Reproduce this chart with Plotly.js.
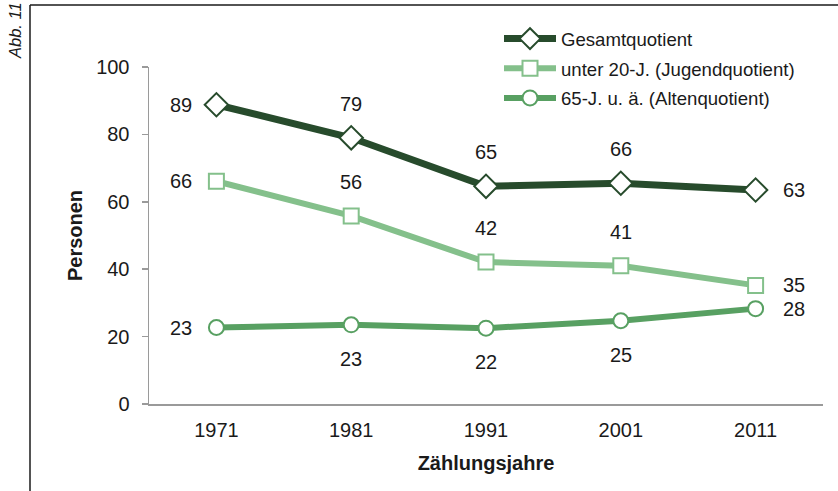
<!DOCTYPE html>
<html>
<head>
<meta charset="utf-8">
<script src="https://cdn.plot.ly/plotly-3.0.1.min.js"></script>
<style>
html,body{margin:0;padding:0;background:#fff;}
#chart{width:838px;height:491px;}
</style>
</head>
<body>
<div id="chart"></div>
<script>
// ---- data ----
const years = ["1971", "1981", "1991", "2001", "2011"];
const seriesNames = ["Gesamtquotient", "unter 20-J. (Jugendquotient)", "65-J. u. ä. (Altenquotient)"];
const gesamt = [88.8, 79.0, 64.6, 65.5, 63.5];
const jugend = [66.1, 55.8, 42.1, 41.0, 35.2];
const alten  = [22.7, 23.5, 22.5, 24.7, 28.3];
const gesamtLabels = ["89", "79", "65", "66", "63"];
const jugendLabels = ["66", "56", "42", "41", "35"];
const altenLabels  = ["23", "23", "22", "25", "28"];
const yTicks = [0, 20, 40, 60, 80, 100];

// ---- styles ----
const colors = ["#274b2c", "#84c08b", "#58a062"];
const lineWidths = [7, 6, 6];
const markerSymbols = ["diamond", "square", "circle"];
const markerSizes = [18, 15, 15];
const labelSides = [
  ["left", "top", "top", "top", "right"],
  ["left", "top", "top", "top", "right"],
  ["left", "bottom", "bottom", "bottom", "right"]
];
const FONT = "Liberation Sans, Arial, sans-serif";
const TXT = "#1a1a1a";

const allValues = [gesamt, jugend, alten];
const allLabels = [gesamtLabels, jugendLabels, altenLabels];

const traces = allValues.map((vals, i) => ({
  type: "scatter",
  mode: "lines+markers",
  x: years,
  y: vals,
  name: seriesNames[i],
  legendgroup: "g" + i,
  line: {color: colors[i], width: lineWidths[i]},
  marker: {symbol: markerSymbols[i], size: markerSizes[i], color: "#ffffff",
           line: {color: colors[i], width: 2}},
  cliponaxis: false,
  hoverinfo: "x+y"
}));

const OFF = 34;
const annotations = [];
allValues.forEach((vals, i) => {
  vals.forEach((v, j) => {
    const side = labelSides[i][j];
    annotations.push({
      x: j, y: v, xref: "x", yref: "y",   // x = category index of years[j]
      text: allLabels[i][j], showarrow: false,
      font: {family: FONT, size: 20, color: TXT},
      xanchor: "center", yanchor: "middle",
      xshift: side === "left" ? -OFF - 1 : side === "right" ? OFF + 4 : 0,
      yshift: side === "top" ? OFF : side === "bottom" ? -OFF : 0
    });
  });
});
annotations.push({
  xref: "paper", yref: "paper",
  x: (15 - 149) / 674, y: (404 - 31) / 337,
  text: "Abb. 11", showarrow: false, textangle: -90,
  font: {family: FONT, size: 16.5, color: TXT, style: "italic"},
  xanchor: "center", yanchor: "middle"
});

const layout = {
  width: 838, height: 491,
  margin: {l: 149, r: 15, t: 67, b: 87},
  paper_bgcolor: "#ffffff", plot_bgcolor: "#ffffff",
  font: {family: FONT, size: 20, color: TXT},
  showlegend: true,
  legend: {
    x: (499 - 149) / 674, xanchor: "left",
    y: (404 - 20) / 337, yanchor: "top",
    bgcolor: "rgba(0,0,0,0)",
    font: {family: FONT, size: 18.6, color: TXT},
    itemwidth: 52,
    tracegroupgap: 2.5,
    traceorder: "grouped"
  },
  xaxis: {
    type: "category",
    range: [-0.5, 4.5],
    showline: true, linecolor: "#9a9a9a", linewidth: 1.5,
    ticks: "", showgrid: false, zeroline: false,
    tickfont: {family: FONT, size: 20, color: TXT},
    ticklabelstandoff: 7,
    title: {text: "<b>Zählungsjahre</b>", font: {family: FONT, size: 20, color: TXT}, standoff: 16}
  },
  yaxis: {
    range: [0, 100],
    tickvals: yTicks,
    showline: true, linecolor: "#9a9a9a", linewidth: 1.5,
    ticks: "outside", ticklen: 6, tickcolor: "#9a9a9a", tickwidth: 1.5,
    showgrid: false, zeroline: false,
    tickfont: {family: FONT, size: 20, color: TXT},
    ticklabelstandoff: 8,
    title: {text: "<b>Personen</b>", font: {family: FONT, size: 20, color: TXT}, standoff: 8}
  },
  shapes: [
    {type: "line", xref: "paper", yref: "paper",
     x0: (30 - 149) / 674, x1: (840 - 149) / 674, y0: (404 - 5) / 337, y1: (404 - 5) / 337,
     line: {color: "#1a1a1a", width: 1.5}},
    {type: "line", xref: "paper", yref: "paper",
     x0: (30 - 149) / 674, x1: (30 - 149) / 674, y0: (404 - 5) / 337, y1: (404 - 495) / 337,
     line: {color: "#1a1a1a", width: 1.5}}
  ],
  annotations: annotations
};

Plotly.newPlot("chart", traces, layout, {displayModeBar: false, staticPlot: true});
</script>
</body>
</html>
